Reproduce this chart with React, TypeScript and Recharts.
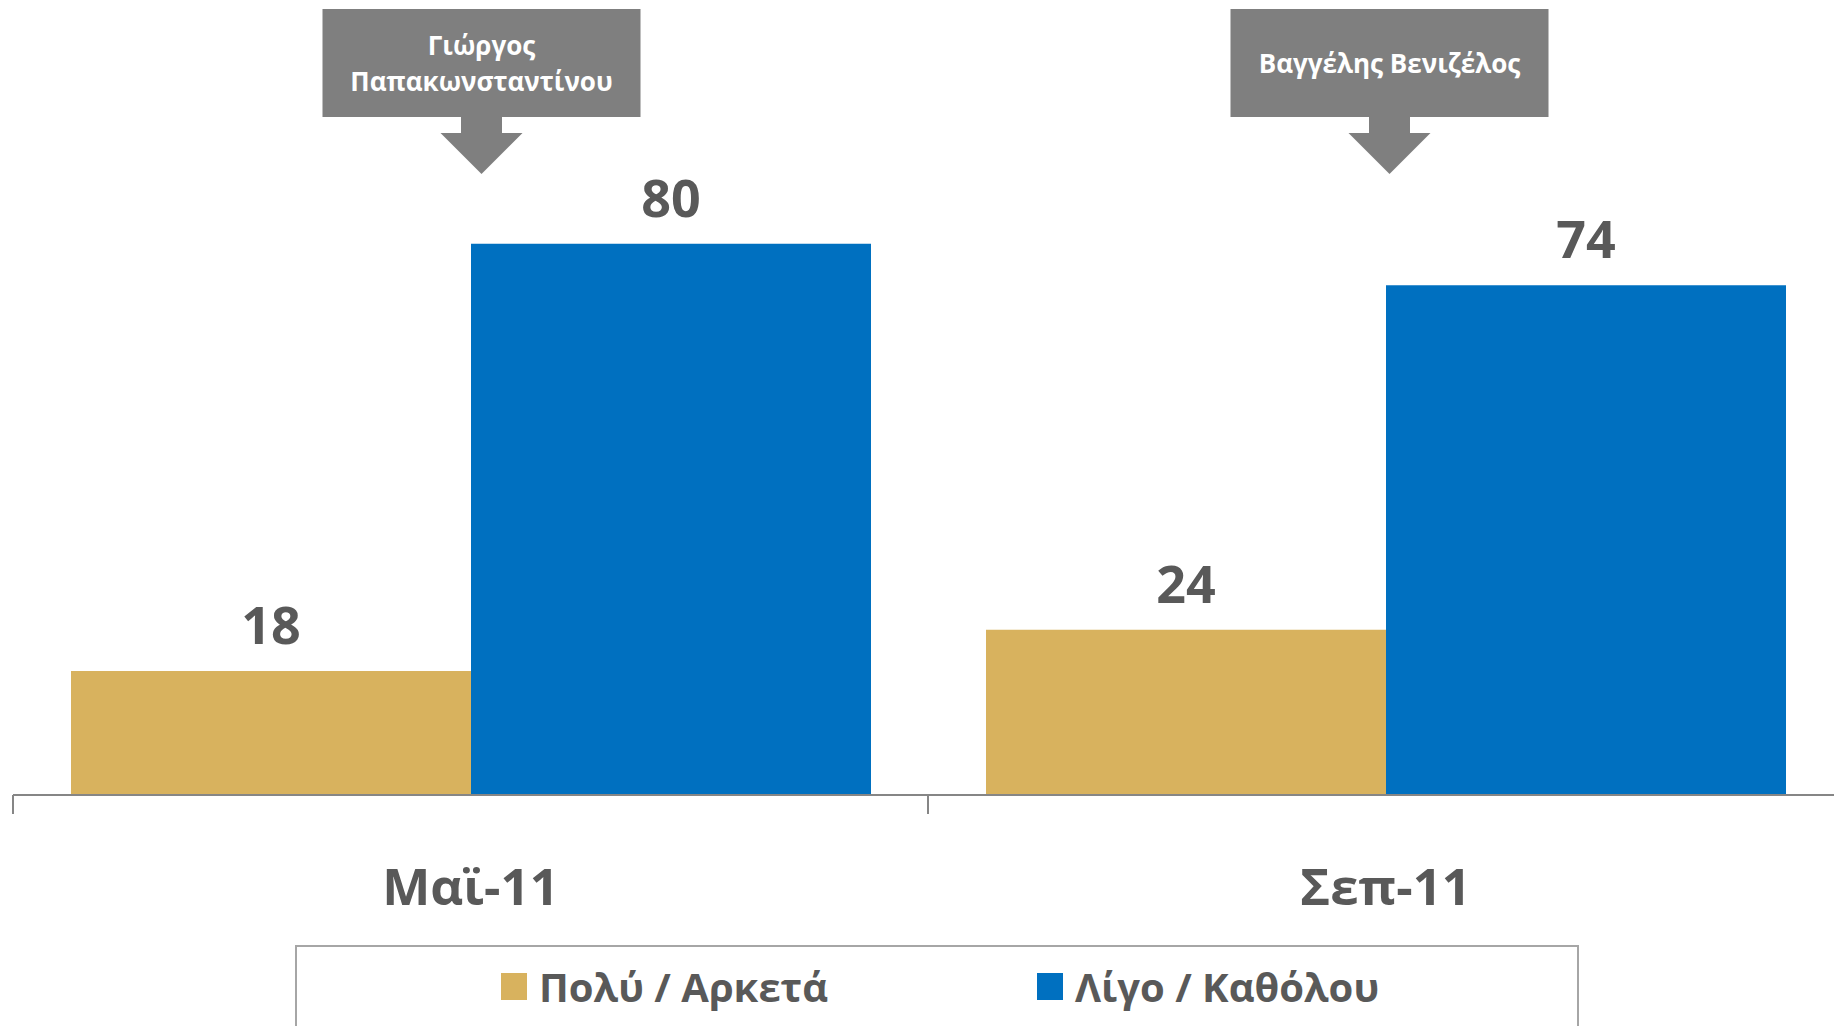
import { Bar, BarChart, LabelList, Legend, ReferenceDot, XAxis, YAxis } from 'recharts';

// Δεδομένα
const categories = ['Μαϊ-11', 'Σεπ-11'];
const muchValues = [18, 24];
const littleValues = [80, 74];
const seriesNames = ['Πολύ / Αρκετά', 'Λίγο / Καθόλου'];
const annotationCategories = ['Μαϊ-11', 'Σεπ-11'];
const annotationLines = [['Γιώργος', 'Παπακωνσταντίνου'], ['Βαγγέλης Βενιζέλος']];
const annotationValue = 100;

const data = categories.map((period, i) => ({
  period,
  much: muchValues[i],
  little: littleValues[i],
}));

const WIDTH = 1850;
const HEIGHT = 1026;
const MARGIN = { top: 106, right: 7, bottom: 111, left: 13 };
const BAND = (WIDTH - MARGIN.left - MARGIN.right) / categories.length;
const FONT = '"Open Sans", "Noto Sans", sans-serif';
const TEXT = '#595959';
const AXIS = '#868686';

const CategoryTick = (props: any) => {
  const { x, y, payload } = props;
  const edge = x - BAND / 2;
  return (
    <g>
      <line x1={edge} x2={edge} y1={y} y2={y + 19} stroke={AXIS} strokeWidth={2} />
      <text
        x={x}
        y={y + 110}
        textAnchor='middle'
        fill={TEXT}
        fontSize={51}
        fontWeight={700}
        fontFamily={FONT}
      >
        {payload.value}
      </text>
    </g>
  );
};

const ValueLabel = (props: any) => {
  const { x, y, width, value } = props;
  return (
    <text
      x={x + width / 2}
      y={y - 27}
      textAnchor='middle'
      fill={TEXT}
      fontSize={52}
      fontWeight={700}
      fontFamily={FONT}
    >
      {value}
    </text>
  );
};

// Πλαίσιο με βέλος πάνω από κάθε περίοδο
const makeCallout = (lines: string[], dx: number) => (props: any) => {
  const { cx, cy } = props;
  const c = cx + dx;
  const top = cy - 97;
  const boxH = 108;
  const boxW = 318;
  const mid = top + boxH / 2;
  const arrow = `M${c - 20.5},${top + boxH} L${c + 20.5},${top + boxH} L${c + 20.5},${top + boxH + 16} L${c + 41},${top + boxH + 16} L${c},${top + boxH + 57} L${c - 41},${top + boxH + 16} L${c - 20.5},${top + boxH + 16} Z`;
  return (
    <g>
      <rect x={c - boxW / 2} y={top} width={boxW} height={boxH} fill='#7f7f7f' />
      <path d={arrow} fill='#7f7f7f' />
      {lines.map((line, i) => (
        <text
          key={line}
          x={c}
          y={mid + (i - (lines.length - 1) / 2) * 36 + 9.5}
          textAnchor='middle'
          fill='#ffffff'
          fontSize={26}
          fontWeight={700}
          fontFamily={FONT}
        >
          {line}
        </text>
      ))}
    </g>
  );
};

const calloutOffsets = [11, 4];

const LegendBox = (props: any) => {
  const { payload = [] } = props;
  const items = [...payload].sort(
    (a: any, b: any) => seriesNames.indexOf(a.value) - seriesNames.indexOf(b.value),
  );
  return (
    <div
      style={{
        boxSizing: 'border-box',
        width: '100%',
        height: '100%',
        borderTop: '2px solid #a6a6a6',
        borderLeft: '2px solid #a6a6a6',
        borderRight: '2px solid #a6a6a6',
        paddingTop: 26,
        paddingLeft: 204,
        display: 'flex',
        fontFamily: FONT,
      }}
    >
      {items.map((entry: any) => (
        <div key={entry.value} style={{ display: 'flex', width: 536, alignItems: 'flex-start' }}>
          <span style={{ width: 26, height: 27, background: entry.color, marginRight: 12 }} />
          <span style={{ fontSize: 40, lineHeight: '27px', fontWeight: 700, color: TEXT, whiteSpace: 'nowrap' }}>
            {entry.value}
          </span>
        </div>
      ))}
    </div>
  );
};

export default function App() {
  return (
    <div style={{ width: 1834, height: HEIGHT, overflow: 'hidden', background: '#fff' }}>
      <style>{'html,body{margin:0;padding:0;overflow:hidden;background:#fff}'}</style>
      <BarChart
        width={WIDTH}
        height={HEIGHT}
        data={data}
        margin={MARGIN}
        barCategoryGap={58}
        barGap={0}
      >
        <XAxis
          dataKey='period'
          height={120}
          tickLine={false}
          tickSize={0}
          tickMargin={0}
          axisLine={{ stroke: AXIS, strokeWidth: 2 }}
          tick={<CategoryTick />}
          interval={0}
        />
        <YAxis hide domain={[0, 100]} />
        <Legend
          layout='horizontal'
          verticalAlign='middle'
          align='center'
          content={<LegendBox />}
          wrapperStyle={{ left: 295, top: 945, width: 1284, height: 83 }}
        />
        <Bar dataKey='much' name={seriesNames[0]} fill='#d8b25e' isAnimationActive={false}>
          <LabelList dataKey='much' content={<ValueLabel />} />
        </Bar>
        <Bar dataKey='little' name={seriesNames[1]} fill='#0070c0' isAnimationActive={false}>
          <LabelList dataKey='little' content={<ValueLabel />} />
        </Bar>
        {annotationCategories.map((cat, i) => (
          <ReferenceDot
            key={cat}
            x={cat}
            y={annotationValue}
            r={0}
            ifOverflow='visible'
            shape={makeCallout(annotationLines[i], calloutOffsets[i])}
          />
        ))}
      </BarChart>
    </div>
  );
}
